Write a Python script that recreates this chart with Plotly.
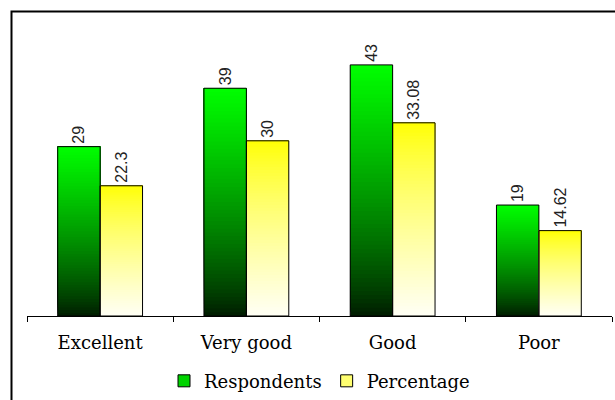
import plotly.graph_objects as go

# Survey ratings: number of respondents and share of the total
categories = ["Excellent", "Very good", "Good", "Poor"]
respondents = [29, 39, 43, 19]
percentage = [22.3, 30, 33.08, 14.62]
respondent_labels = ["29", "39", "43", "19"]
percentage_labels = ["22.3", "30", "33.08", "14.62"]

N_STEPS = 60  # vertical slices used to build each bar's gradient


def green_shade(t):
    # t = 0 at the bar's base, 1 at its top: near-black green up to bright green
    g = int(round(25 + 230 * t ** 0.8))
    return f"rgb(0,{g},0)"


def yellow_shade(t):
    # t = 0 at the bar's base, 1 at its top: almost white up to pure yellow
    b = int(round(245 * (1 - t) ** 0.8))
    return f"rgb(255,255,{b})"


fig = go.Figure()

# Legend entries (no visible bars of their own)
fig.add_trace(go.Bar(
    x=categories, y=[None] * len(categories), name="Respondents",
    offsetgroup="resp", marker=dict(color="#00d400", line=dict(color="black", width=1)),
))
fig.add_trace(go.Bar(
    x=categories, y=[None] * len(categories), name="Percentage",
    offsetgroup="pct", marker=dict(color="#ffff70", line=dict(color="black", width=1)),
))

# Gradient fill: slice k runs from k/N of the value up to the full value,
# so each slice overlaps the one below and no seams show between them
for values, group, shade in ((respondents, "resp", green_shade),
                             (percentage, "pct", yellow_shade)):
    for k in range(N_STEPS):
        t = (k + 0.5) / N_STEPS
        fig.add_trace(go.Bar(
            x=categories,
            y=[v * (N_STEPS - k) / N_STEPS for v in values],
            base=[v * k / N_STEPS for v in values],
            offsetgroup=group,
            marker=dict(color=shade(t), line=dict(width=0)),
            showlegend=False, hoverinfo="skip",
        ))

# Outlines and value labels on top of the gradient
for values, labels, group in ((respondents, respondent_labels, "resp"),
                              (percentage, percentage_labels, "pct")):
    fig.add_trace(go.Bar(
        x=categories, y=values, offsetgroup=group,
        marker=dict(color="rgba(0,0,0,0)", line=dict(color="black", width=1)),
        text=labels, textposition="outside", textangle=-90, constraintext="none",
        textfont=dict(family="Liberation Sans, Arial, sans-serif", size=16, color="#222"),
        cliponaxis=False, showlegend=False,
    ))

fig.update_layout(
    width=615, height=400,
    margin=dict(l=27, r=3, t=24, b=84, autoexpand=False),
    paper_bgcolor="white", plot_bgcolor="white",
    barmode="group", bargap=0.42, bargroupgap=0,
    font=dict(family="DejaVu Serif, serif", size=18, color="black"),
    showlegend=True,
    legend=dict(orientation="h", x=0.5, xanchor="center", y=-0.223, yanchor="middle",
                font=dict(family="DejaVu Serif, serif", size=18, color="black"),
                traceorder="normal", itemclick=False),
    xaxis=dict(showline=True, linecolor="black", linewidth=1, automargin=False,
               ticks="outside", tickson="boundaries", ticklen=5, tickcolor="black",
               ticklabelstandoff=10, showgrid=False, zeroline=False),
    yaxis=dict(visible=False, range=[0, 50], automargin=False),
)

# Chart frame (continues past the right and bottom edges of the page)
fig.add_shape(type="rect", xref="paper", yref="paper",
              x0=-0.0265, x1=1.2, y0=-0.6, y1=1.043,
              line=dict(color="black", width=2), fillcolor="rgba(0,0,0,0)", layer="above")

fig.write_html("out.html")
